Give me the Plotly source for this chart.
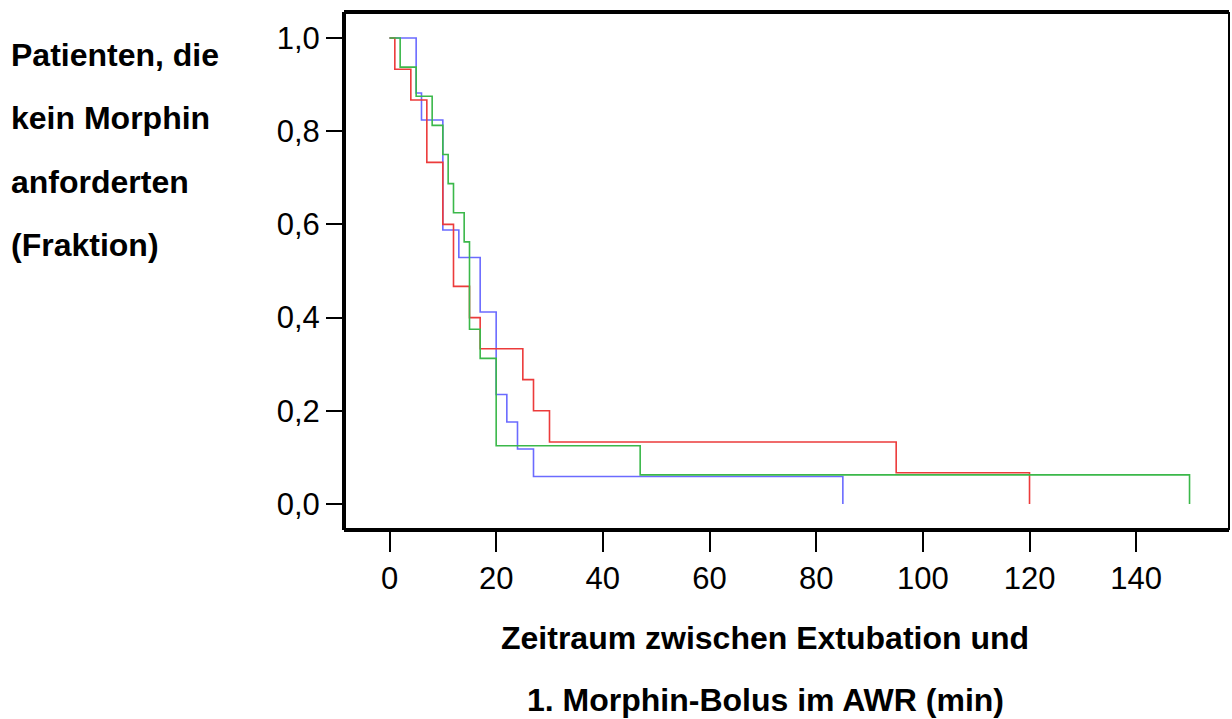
import plotly.graph_objects as go

# Kaplan-Meier step data (time in min, fraction without morphine)
red_t = [0, 1, 4, 7, 10, 12, 15, 17, 25, 27, 30, 95, 120]
red_s = [1.0, 0.933, 0.867, 0.733, 0.600, 0.467, 0.400, 0.333, 0.267, 0.200, 0.133, 0.067, 0.0]

green_t = [0, 2, 5, 8, 10, 11, 12, 14, 15, 17, 20, 47, 150]
green_s = [1.0, 0.9375, 0.875, 0.8125, 0.75, 0.6875, 0.625, 0.5625, 0.375, 0.3125, 0.125, 0.0625, 0.0]

blue_t = [0, 5, 6, 10, 13, 17, 20, 22, 24, 27, 85]
blue_s = [1.0, 0.882, 0.824, 0.588, 0.529, 0.412, 0.235, 0.176, 0.118, 0.059, 0.0]

x_ticks = [0, 20, 40, 60, 80, 100, 120, 140]
y_ticks = [0.0, 0.2, 0.4, 0.6, 0.8, 1.0]
y_tick_labels = ["0,0", "0,2", "0,4", "0,6", "0,8", "1,0"]

y_title_lines = ["Patienten, die", "kein Morphin", "anforderten", "(Fraktion)"]
x_title_lines = ["Zeitraum zwischen Extubation und", "1. Morphin-Bolus im AWR (min)"]

FONT = "Liberation Sans, Arial, sans-serif"

fig = go.Figure()
for t, s, c in [(blue_t, blue_s, "#6B6BFF"), (red_t, red_s, "#EC3B3B"), (green_t, green_s, "#3BB84A")]:
    fig.add_trace(go.Scatter(x=t, y=s, mode="lines", line=dict(color=c, width=1.6, shape="hv"),
                             showlegend=False, hoverinfo="skip"))

L, R, T, B = 343.5, 1229, 12, 530
W, H = 1232, 719
fig.update_layout(
    width=W, height=H,
    margin=dict(l=L, r=W - R, t=T, b=H - B, pad=0),
    paper_bgcolor="white", plot_bgcolor="white",
    font=dict(family=FONT, color="black"),
    showlegend=False,
)
fig.update_xaxes(range=[-8.53, 157.4], tickvals=x_ticks, ticktext=[str(v) for v in x_ticks],
                 ticks="outside", ticklen=21, tickwidth=2, tickcolor="black",
                 tickfont=dict(size=31), showgrid=False, zeroline=False, showline=False)
fig.update_yaxes(range=[-0.0558, 1.0558], tickvals=y_ticks, ticktext=y_tick_labels,
                 ticks="outside", ticklen=17, tickwidth=2, tickcolor="black",
                 tickfont=dict(size=31), showgrid=False, zeroline=False, showline=False)

# frame
fig.add_shape(type="line", xref="paper", yref="paper", x0=0, x1=1, y0=0, y1=0, line=dict(color="black", width=4))
fig.add_shape(type="line", xref="paper", yref="paper", x0=0, x1=1, y0=1, y1=1, line=dict(color="black", width=4))
fig.add_shape(type="line", xref="paper", yref="paper", x0=0, x1=0, y0=0, y1=1, line=dict(color="black", width=4))
fig.add_shape(type="line", xref="paper", yref="paper", x0=1, x1=1, y0=0, y1=1, line=dict(color="black", width=2))


def px_to_paper_y(py):
    return (B - py) / (B - T)


def px_to_paper_x(px):
    return (px - L) / (R - L)


for i, txt in enumerate(y_title_lines):
    fig.add_annotation(text="<b>" + txt + "</b>", xref="paper", yref="paper",
                       x=px_to_paper_x(8), y=px_to_paper_y(55 + 63.3 * i),
                       xanchor="left", yanchor="middle", showarrow=False,
                       font=dict(size=32, family=FONT, color="black"))
for i, txt in enumerate(x_title_lines):
    fig.add_annotation(text="<b>" + txt + "</b>", xref="paper", yref="paper",
                       x=px_to_paper_x(765), y=px_to_paper_y(638 + 62 * i),
                       xanchor="center", yanchor="middle", showarrow=False,
                       font=dict(size=32, family=FONT, color="black"))

fig.write_html("out.html", config={"displayModeBar": False},
               post_script="document.documentElement.style.margin='0';document.body.style.margin='0';"
                           "document.body.style.overflow='hidden';")
